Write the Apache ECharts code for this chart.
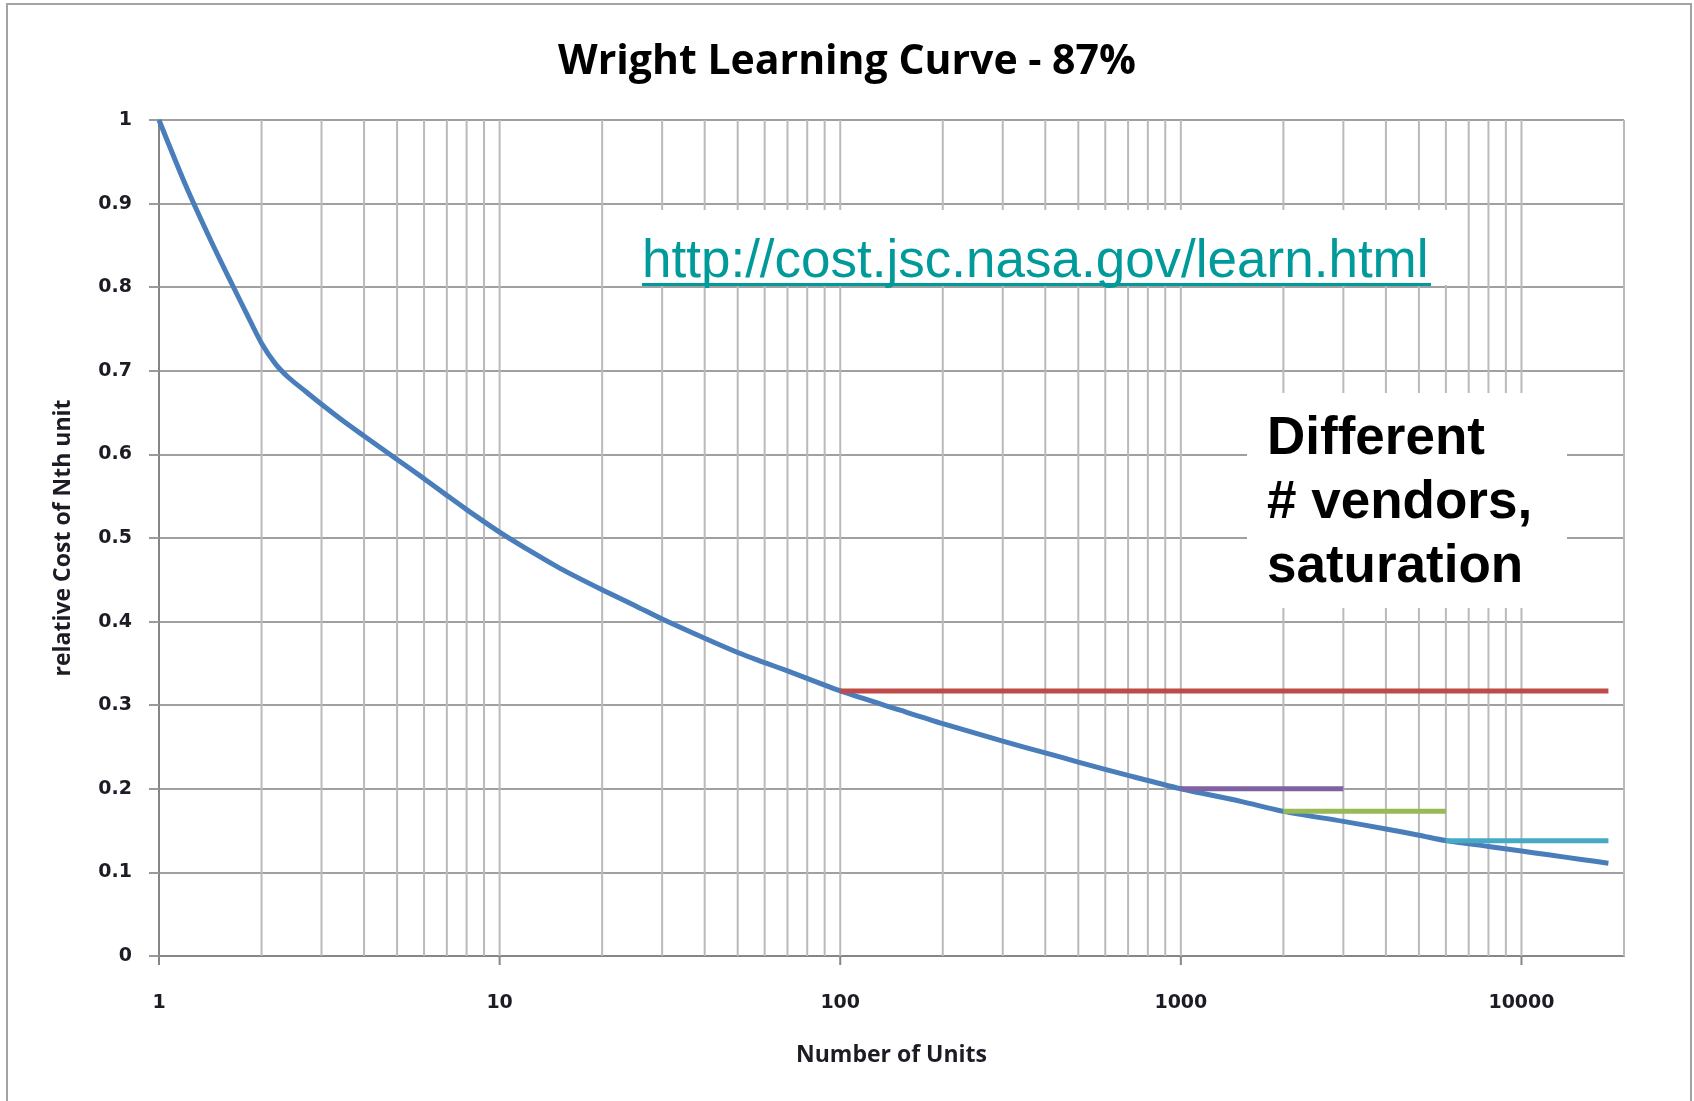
<!DOCTYPE html>
<html>
<head>
<meta charset="utf-8">
<script src="https://cdn.jsdelivr.net/npm/echarts@6/dist/echarts.min.js"></script>
<style>
html,body{margin:0;padding:0;background:#fff;}
#chart{width:1694px;height:1101px;}
</style>
</head>
<body>
<div id="chart"></div>
<script>
// ---- data ----
const units = [1, 1.2, 1.4, 1.6, 1.8, 2, 2.2, 2.4, 2.7, 3, 3.5, 4, 5, 6, 7, 8, 10, 12, 15, 20, 25, 30, 40, 50, 60, 70, 85,
               100, 150, 200, 300, 400, 500, 700, 1000, 1500, 2000, 3000, 4000, 5000, 6000, 8000, 10000, 12000, 15000, 18000];
const relativeCost = [1.0, 0.921, 0.861, 0.812, 0.770, 0.733, 0.708, 0.692, 0.675, 0.660, 0.639, 0.622, 0.594, 0.571, 0.551, 0.534, 0.507, 0.487, 0.464, 0.438, 0.419, 0.403, 0.380, 0.363, 0.351, 0.341, 0.328,
               0.317, 0.294, 0.278, 0.257, 0.243, 0.232, 0.216, 0.200, 0.185, 0.173, 0.161, 0.152, 0.1445, 0.138, 0.131, 0.1255, 0.121, 0.1155, 0.111];
// saturation (different # vendors) plateaus
const plateauLevel = [0.317, 0.2, 0.173, 0.138];
const plateauStart = [100, 1000, 2000, 6000];
const plateauEnd   = [18000, 3000, 6000, 18000];
const plateauColor = ['#be4b48', '#7e62a1', '#98b954', '#46aac5'];
// axis ticks
const xMajorTicks = [1, 10, 100, 1000, 10000];
const xGridLines = [2,3,4,5,6,7,8,9,10, 20,30,40,50,60,70,80,90,100,
                    200,300,400,500,600,700,800,900,1000,
                    2000,3000,4000,5000,6000,7000,8000,9000,10000, 20000];
const xMin = 1, xMax = 20000;
const yMin = 0, yMax = 1, yStep = 0.1;

const chart = echarts.init(document.getElementById('chart'), null, {renderer: 'canvas'});

const labelFont = {fontFamily: 'DejaVu Sans', fontWeight: 'bold', fontSize: 19, color: '#1c1c24'};

const series = [
  {
    type: 'custom',
    name: 'vgrid',
    silent: true,
    z: 1,
    clip: false,
    data: xGridLines.map(v => [v, yMin]),
    encode: {x: 0, y: 1},
    renderItem: (params, api) => {
      const v = api.value(0);
      const p0 = api.coord([v, yMin]);
      const p1 = api.coord([v, yMax]);
      return {type: 'line', shape: {x1: p0[0], y1: p0[1], x2: p1[0], y2: p1[1]},
              style: {stroke: '#bababa', lineWidth: 2}};
    }
  },
  {
    type: 'custom',
    name: 'xticks',
    silent: true,
    z: 3,
    clip: false,
    data: xMajorTicks.map(v => [v, yMin]),
    encode: {x: 0, y: 1},
    renderItem: (params, api) => {
      const p0 = api.coord([api.value(0), yMin]);
      return {type: 'line', shape: {x1: p0[0], y1: p0[1], x2: p0[0], y2: p0[1] + 9},
              style: {stroke: '#868686', lineWidth: 2}};
    }
  },
  {
    type: 'line',
    name: 'Wright 87%',
    data: units.map((u, i) => [u, relativeCost[i]]),
    showSymbol: false,
    smooth: 0.3,
    z: 4,
    lineStyle: {color: '#4a7ebb', width: 5},
    itemStyle: {color: '#4a7ebb'},
    animation: false
  }
];
plateauLevel.forEach((lvl, i) => {
  series.push({
    type: 'line',
    name: 'plateau' + i,
    data: [[plateauStart[i], lvl], [plateauEnd[i], lvl]],
    showSymbol: false,
    z: 5,
    lineStyle: {color: plateauColor[i], width: 5},
    itemStyle: {color: plateauColor[i]},
    animation: false
  });
});

chart.setOption({
  animation: false,
  backgroundColor: '#ffffff',
  title: {
    text: 'Wright Learning Curve - 87%',
    left: 'center',
    top: 37,
    textStyle: {fontFamily: 'Open Sans', fontWeight: 'bold', fontSize: 41, color: '#000000'}
  },
  grid: {left: 159, right: 70, top: 120, bottom: 145},
  xAxis: {
    type: 'log',
    logBase: 10,
    min: xMin,
    max: xMax,
    name: 'Number of Units',
    nameLocation: 'middle',
    nameGap: 88,
    nameTextStyle: {fontFamily: 'Open Sans', fontWeight: 'bold', fontSize: 23, color: '#1c1c24'},
    axisLine: {show: true, lineStyle: {color: '#868686', width: 2}},
    axisTick: {show: false},
    axisLabel: Object.assign({
      margin: 38,
      formatter: v => (xMajorTicks.indexOf(Math.round(v)) >= 0 ? String(Math.round(v)) : '')
    }, labelFont),
    splitLine: {show: false},
    minorTick: {show: false},
    minorSplitLine: {show: false}
  },
  yAxis: {
    type: 'value',
    min: yMin,
    max: yMax,
    interval: yStep,
    name: 'relative Cost of Nth unit',
    nameLocation: 'middle',
    nameGap: 84,
    nameTextStyle: {fontFamily: 'Open Sans', fontWeight: 'bold', fontSize: 23, color: '#1c1c24'},
    axisLine: {show: true, lineStyle: {color: '#868686', width: 2}},
    axisTick: {show: true, length: 10, lineStyle: {color: '#9a9a9a', width: 2}},
    axisLabel: Object.assign({
      margin: 27,
      formatter: v => (v === 0 ? '0' : (Math.abs(v - 1) < 1e-9 ? '1' : v.toFixed(1)))
    }, labelFont),
    splitLine: {show: true, lineStyle: {color: '#a0a0a0', width: 2}}
  },
  series: series,
  graphic: [
    {type: 'rect', silent: true, z: 0, shape: {x: 7, y: 4, width: 1684, height: 1110},
     style: {fill: null, stroke: '#a3a3a3', lineWidth: 2}},
    {type: 'rect', silent: true, z: 10, shape: {x: 630, y: 210, width: 820, height: 75},
     style: {fill: '#ffffff'}},
    {type: 'text', silent: true, z: 11, x: 642, y: 262,
     style: {text: 'http://cost.jsc.nasa.gov/learn.html', fill: '#009a9a',
             font: '53px "Liberation Sans", Arial, sans-serif', textAlign: 'left', textVerticalAlign: 'middle'}},
    {type: 'line', silent: true, z: 11, shape: {x1: 642, y1: 284.5, x2: 1431, y2: 284.5},
     style: {stroke: '#009a9a', lineWidth: 3}},
    {type: 'rect', silent: true, z: 10, shape: {x: 1247, y: 393, width: 320, height: 215},
     style: {fill: '#ffffff'}},
    {type: 'text', silent: true, z: 11, x: 1267, y: 407,
     style: {text: 'Different\n# vendors,\nsaturation', fill: '#000000',
             font: 'bold 53px "Liberation Sans", Arial, sans-serif', lineHeight: 64,
             textAlign: 'left', textVerticalAlign: 'top'}}
  ]
});
</script>
</body>
</html>
